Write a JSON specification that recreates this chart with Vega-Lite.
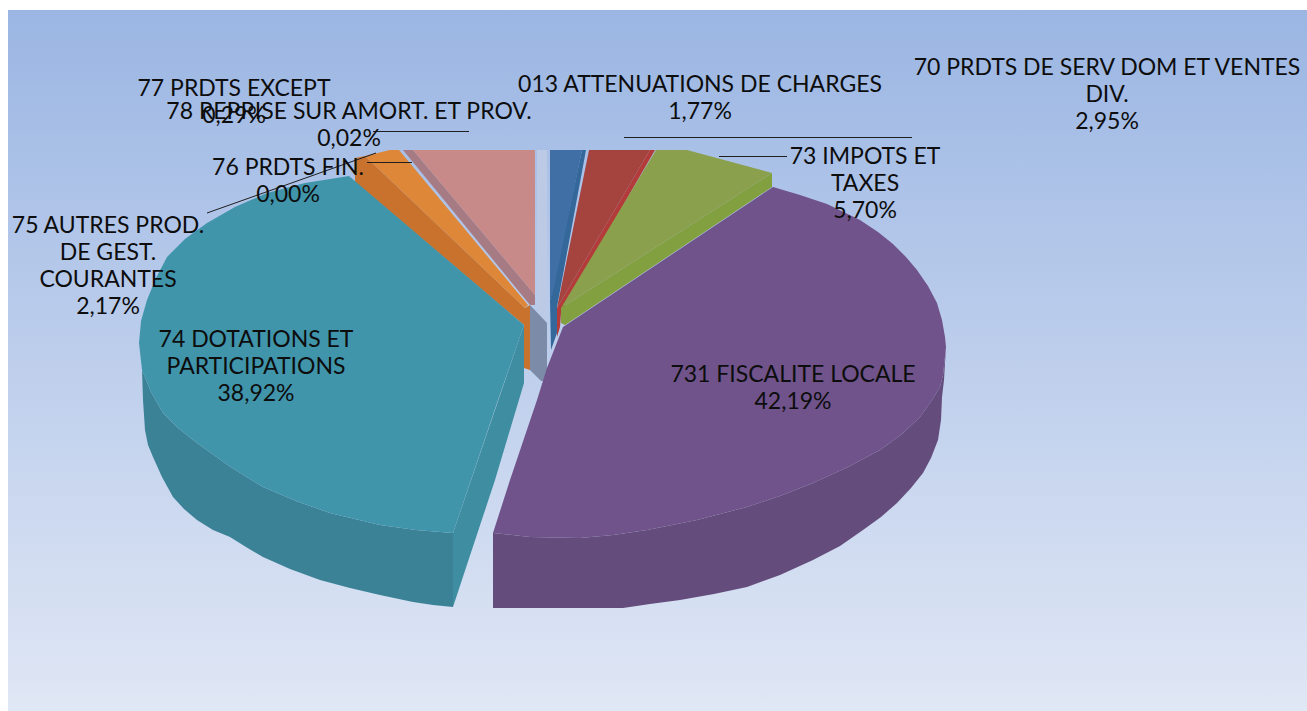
{
"$schema":"https://vega.github.io/schema/vega-lite/v6.json",
"width":1307,"height":711,"padding":0,
"autosize":{"type":"fit","contains":"padding"},
"background":"white",
"config":{"view":{"stroke":null}},
"datasets":{
"panel":[{"x":0.8,"x2":130.7,"y":1.0,"y2":71.1}],
"leaders":[
{"x":37.3,"y":13.15,"x2":46.9,"y2":13.15},
{"x":62.4,"y":13.75,"x2":91.2,"y2":13.75},
{"x":71.9,"y":15.65,"x2":78.7,"y2":15.65},
{"x":36.7,"y":16.25,"x2":41.2,"y2":16.25},
{"x":20.7,"y":21.3,"x2":37.6,"y2":15.3}
],
"labels":[
{"t":"70 PRDTS DE SERV DOM ET VENTES\nDIV.\n2,95%","pct":2.95,"x":110.7,"y":6.8},
{"t":"013 ATTENUATIONS DE CHARGES\n1,77%","pct":1.77,"x":70.0,"y":8.5},
{"t":"73 IMPOTS ET\nTAXES\n5,70%","pct":5.70,"x":86.5,"y":15.7},
{"t":"731 FISCALITE LOCALE\n42,19%","pct":42.19,"x":79.3,"y":37.5},
{"t":"74 DOTATIONS ET\nPARTICIPATIONS\n38,92%","pct":38.92,"x":25.6,"y":34.0},
{"t":"75 AUTRES PROD.\nDE  GEST.\nCOURANTES\n2,17%","pct":2.17,"x":10.8,"y":22.6},
{"t":"76 PRDTS FIN.\n0,00%","pct":0.00,"x":28.8,"y":16.8},
{"t":"77 PRDTS EXCEPT\n0,29%","pct":0.29,"x":23.4,"y":8.9},
{"t":"78 REPRISE SUR AMORT. ET PROV.\n0,02%","pct":0.02,"x":34.9,"y":11.2}
],
"shapes":[
{"p":"pinkWall","i":1,"x":40.3,"y":15},{"p":"pinkWall","i":2,"x":41.3,"y":15},{"p":"pinkWall","i":3,"x":53.5,"y":29.5},{"p":"pinkWall","i":4,"x":53.5,"y":30.5},{"p":"pinkWall","i":5,"x":53.0,"y":30.5},
{"p":"pinkFace","i":1,"x":41.3,"y":15},{"p":"pinkFace","i":2,"x":53.5,"y":15},{"p":"pinkFace","i":3,"x":53.5,"y":29.5},
{"p":"stripe","i":1,"x":53.7,"y":15},{"p":"stripe","i":2,"x":54.7,"y":15},{"p":"stripe","i":3,"x":54.7,"y":32.3},{"p":"stripe","i":4,"x":53.7,"y":31},
{"p":"greyWall","i":1,"x":53.0,"y":30.5},{"p":"greyWall","i":2,"x":54.7,"y":32.3},{"p":"greyWall","i":3,"x":54.7,"y":38.1},{"p":"greyWall","i":4,"x":54.1,"y":38.1},{"p":"greyWall","i":5,"x":53.0,"y":37.0},
{"p":"orangeWall","i":1,"x":35.5,"y":15.8},{"p":"orangeWall","i":2,"x":36.5,"y":15.6},{"p":"orangeWall","i":3,"x":52.5,"y":30.8},{"p":"orangeWall","i":4,"x":53.0,"y":30.5},{"p":"orangeWall","i":5,"x":53.0,"y":37.0},{"p":"orangeWall","i":6,"x":52.4,"y":36.8},{"p":"orangeWall","i":7,"x":52.4,"y":32.5},{"p":"orangeWall","i":8,"x":35.5,"y":18.2},
{"p":"orangeFace","i":1,"x":36.5,"y":15.6},{"p":"orangeFace","i":2,"x":39.0,"y":15},{"p":"orangeFace","i":3,"x":39.9,"y":15},{"p":"orangeFace","i":4,"x":52.8,"y":30.5},{"p":"orangeFace","i":5,"x":52.5,"y":30.8},
{"p":"tealWall","i":1,"x":45.3,"y":53.3},{"p":"tealWall","i":2,"x":41.6,"y":53.0},{"p":"tealWall","i":3,"x":38.0,"y":52.5},{"p":"tealWall","i":4,"x":35.5,"y":51.9},{"p":"tealWall","i":5,"x":33.0,"y":51.3},{"p":"tealWall","i":6,"x":29.6,"y":50.1},{"p":"tealWall","i":7,"x":26.3,"y":48.7},{"p":"tealWall","i":8,"x":22.9,"y":46.6},{"p":"tealWall","i":9,"x":19.7,"y":44.3},{"p":"tealWall","i":10,"x":17.8,"y":42.8},{"p":"tealWall","i":11,"x":16.3,"y":41.3},{"p":"tealWall","i":12,"x":15.1,"y":39.2},{"p":"tealWall","i":13,"x":14.2,"y":37.0},{"p":"tealWall","i":14,"x":14.3,"y":40.0},{"p":"tealWall","i":15,"x":14.5,"y":43.0},{"p":"tealWall","i":16,"x":14.8,"y":44.5},{"p":"tealWall","i":17,"x":15.3,"y":45.7},{"p":"tealWall","i":18,"x":16.2,"y":47.7},{"p":"tealWall","i":19,"x":17.3,"y":49.7},{"p":"tealWall","i":20,"x":18.4,"y":50.9},{"p":"tealWall","i":21,"x":19.7,"y":52.0},{"p":"tealWall","i":22,"x":21.3,"y":53.0},{"p":"tealWall","i":23,"x":23.0,"y":53.7},{"p":"tealWall","i":24,"x":24.6,"y":54.7},{"p":"tealWall","i":25,"x":26.3,"y":55.7},{"p":"tealWall","i":26,"x":29.0,"y":56.9},{"p":"tealWall","i":27,"x":32.0,"y":58.0},{"p":"tealWall","i":28,"x":35.0,"y":58.8},{"p":"tealWall","i":29,"x":38.0,"y":59.5},{"p":"tealWall","i":30,"x":41.3,"y":60.2},{"p":"tealWall","i":31,"x":43.3,"y":60.5},{"p":"tealWall","i":32,"x":45.3,"y":60.7},
{"p":"tealInner","i":1,"x":52.4,"y":32.5},{"p":"tealInner","i":2,"x":52.4,"y":38.3},{"p":"tealInner","i":3,"x":49.5,"y":48.0},{"p":"tealInner","i":4,"x":45.3,"y":60.7},{"p":"tealInner","i":5,"x":45.3,"y":53.3},
{"p":"tealFace","i":1,"x":52.4,"y":32.5},{"p":"tealFace","i":2,"x":49.8,"y":40.0},{"p":"tealFace","i":3,"x":45.3,"y":53.3},{"p":"tealFace","i":4,"x":41.6,"y":53.0},{"p":"tealFace","i":5,"x":38.0,"y":52.5},{"p":"tealFace","i":6,"x":35.5,"y":51.9},{"p":"tealFace","i":7,"x":33.0,"y":51.3},{"p":"tealFace","i":8,"x":29.6,"y":50.1},{"p":"tealFace","i":9,"x":26.3,"y":48.7},{"p":"tealFace","i":10,"x":22.9,"y":46.6},{"p":"tealFace","i":11,"x":19.7,"y":44.3},{"p":"tealFace","i":12,"x":17.8,"y":42.8},{"p":"tealFace","i":13,"x":16.3,"y":41.3},{"p":"tealFace","i":14,"x":15.1,"y":39.2},{"p":"tealFace","i":15,"x":14.2,"y":37.0},{"p":"tealFace","i":16,"x":13.9,"y":34.3},{"p":"tealFace","i":17,"x":14.1,"y":32.1},{"p":"tealFace","i":18,"x":14.7,"y":30.0},{"p":"tealFace","i":19,"x":15.6,"y":27.8},{"p":"tealFace","i":20,"x":16.7,"y":25.7},{"p":"tealFace","i":21,"x":18.5,"y":23.9},{"p":"tealFace","i":22,"x":20.7,"y":22.3},{"p":"tealFace","i":23,"x":23.5,"y":20.7},{"p":"tealFace","i":24,"x":26.7,"y":19.3},{"p":"tealFace","i":25,"x":30.5,"y":18.3},{"p":"tealFace","i":26,"x":34.9,"y":17.6},
{"p":"blueWall","i":1,"x":58.2,"y":15},{"p":"blueWall","i":2,"x":58.6,"y":15},{"p":"blueWall","i":3,"x":55.7,"y":30.7},{"p":"blueWall","i":4,"x":55.7,"y":33.3},{"p":"blueWall","i":5,"x":55.1,"y":35.0},{"p":"blueWall","i":6,"x":55.0,"y":30.0},
{"p":"blueFace","i":1,"x":55.0,"y":15},{"p":"blueFace","i":2,"x":58.2,"y":15},{"p":"blueFace","i":3,"x":55.3,"y":29.3},{"p":"blueFace","i":4,"x":55.0,"y":30.0},
{"p":"redWall","i":1,"x":65.0,"y":15},{"p":"redWall","i":2,"x":65.5,"y":15},{"p":"redWall","i":3,"x":56.1,"y":31.3},{"p":"redWall","i":4,"x":56.0,"y":32.7},{"p":"redWall","i":5,"x":55.7,"y":33.7},{"p":"redWall","i":6,"x":55.7,"y":30.8},
{"p":"redFace","i":1,"x":58.9,"y":15},{"p":"redFace","i":2,"x":65.0,"y":15},{"p":"redFace","i":3,"x":55.7,"y":30.8},
{"p":"greenWall","i":1,"x":77.2,"y":17.3},{"p":"greenWall","i":2,"x":77.2,"y":18.7},{"p":"greenWall","i":3,"x":56.5,"y":32.5},{"p":"greenWall","i":4,"x":56.1,"y":32.3},{"p":"greenWall","i":5,"x":56.1,"y":30.8},
{"p":"greenFace","i":1,"x":65.6,"y":15},{"p":"greenFace","i":2,"x":68.7,"y":15},{"p":"greenFace","i":3,"x":77.2,"y":17.3},{"p":"greenFace","i":4,"x":56.1,"y":30.8},
{"p":"purpleWall","i":1,"x":49.3,"y":53.3},{"p":"purpleWall","i":2,"x":53.0,"y":53.7},{"p":"purpleWall","i":3,"x":58.0,"y":53.8},{"p":"purpleWall","i":4,"x":61.3,"y":53.5},{"p":"purpleWall","i":5,"x":64.7,"y":53.0},{"p":"purpleWall","i":6,"x":69.7,"y":52.0},{"p":"purpleWall","i":7,"x":74.7,"y":50.7},{"p":"purpleWall","i":8,"x":78.0,"y":49.6},{"p":"purpleWall","i":9,"x":81.3,"y":48.3},{"p":"purpleWall","i":10,"x":84.8,"y":46.7},{"p":"purpleWall","i":11,"x":88.0,"y":45.0},{"p":"purpleWall","i":12,"x":90.2,"y":43.4},{"p":"purpleWall","i":13,"x":92.0,"y":41.7},{"p":"purpleWall","i":14,"x":93.2,"y":40.0},{"p":"purpleWall","i":15,"x":94.0,"y":38.7},{"p":"purpleWall","i":16,"x":94.3,"y":37.5},{"p":"purpleWall","i":17,"x":94.6,"y":34.7},{"p":"purpleWall","i":18,"x":94.5,"y":36.3},{"p":"purpleWall","i":19,"x":94.4,"y":38.0},{"p":"purpleWall","i":20,"x":94.2,"y":39.7},{"p":"purpleWall","i":21,"x":94.1,"y":42.0},{"p":"purpleWall","i":22,"x":93.8,"y":44.0},{"p":"purpleWall","i":23,"x":93.1,"y":45.8},{"p":"purpleWall","i":24,"x":92.3,"y":47.3},{"p":"purpleWall","i":25,"x":91.1,"y":48.8},{"p":"purpleWall","i":26,"x":89.7,"y":50.3},{"p":"purpleWall","i":27,"x":88.1,"y":51.7},{"p":"purpleWall","i":28,"x":86.3,"y":53.0},{"p":"purpleWall","i":29,"x":84.0,"y":54.6},{"p":"purpleWall","i":30,"x":81.3,"y":56.0},{"p":"purpleWall","i":31,"x":78.0,"y":57.5},{"p":"purpleWall","i":32,"x":74.7,"y":58.7},{"p":"purpleWall","i":33,"x":71.4,"y":59.4},{"p":"purpleWall","i":34,"x":68.0,"y":60.0},{"p":"purpleWall","i":35,"x":65.0,"y":60.4},{"p":"purpleWall","i":36,"x":62.3,"y":60.8},{"p":"purpleWall","i":37,"x":49.3,"y":60.8},
{"p":"purpleFace","i":1,"x":56.3,"y":32.7},{"p":"purpleFace","i":2,"x":77.3,"y":18.7},{"p":"purpleFace","i":3,"x":80.0,"y":19.5},{"p":"purpleFace","i":4,"x":82.7,"y":20.4},{"p":"purpleFace","i":5,"x":86.0,"y":22.0},{"p":"purpleFace","i":6,"x":87.8,"y":23.2},{"p":"purpleFace","i":7,"x":89.3,"y":24.4},{"p":"purpleFace","i":8,"x":90.6,"y":25.7},{"p":"purpleFace","i":9,"x":91.7,"y":27.0},{"p":"purpleFace","i":10,"x":92.8,"y":28.6},{"p":"purpleFace","i":11,"x":93.7,"y":30.3},{"p":"purpleFace","i":12,"x":94.2,"y":32.0},{"p":"purpleFace","i":13,"x":94.5,"y":33.7},{"p":"purpleFace","i":14,"x":94.6,"y":34.7},{"p":"purpleFace","i":15,"x":94.3,"y":37.5},{"p":"purpleFace","i":16,"x":94.0,"y":38.7},{"p":"purpleFace","i":17,"x":93.2,"y":40.0},{"p":"purpleFace","i":18,"x":92.0,"y":41.7},{"p":"purpleFace","i":19,"x":90.2,"y":43.4},{"p":"purpleFace","i":20,"x":88.0,"y":45.0},{"p":"purpleFace","i":21,"x":84.8,"y":46.7},{"p":"purpleFace","i":22,"x":81.3,"y":48.3},{"p":"purpleFace","i":23,"x":78.0,"y":49.6},{"p":"purpleFace","i":24,"x":74.7,"y":50.7},{"p":"purpleFace","i":25,"x":69.7,"y":52.0},{"p":"purpleFace","i":26,"x":64.7,"y":53.0},{"p":"purpleFace","i":27,"x":61.3,"y":53.5},{"p":"purpleFace","i":28,"x":58.0,"y":53.8},{"p":"purpleFace","i":29,"x":53.0,"y":53.7},{"p":"purpleFace","i":30,"x":49.3,"y":53.3},{"p":"purpleFace","i":31,"x":51.0,"y":48.0},{"p":"purpleFace","i":32,"x":53.7,"y":40.0},{"p":"purpleFace","i":33,"x":54.7,"y":36.8}
]
},
"layer":[
{"data":{"name":"panel"},"mark":{"type":"rect","fill":{"gradient":"linear","x1":0,"y1":0,"x2":0,"y2":1,"stops":[{"offset":0,"color":"#9bb6e3"},{"offset":1,"color":"#e0e7f5"}]}},
"encoding":{"x":{"field":"x","type":"quantitative","scale":{"domain":[0,130.7],"nice":false,"zero":false},"axis":null},"x2":{"field":"x2"},"y":{"field":"y","type":"quantitative","scale":{"domain":[0,71.1],"reverse":true,"nice":false,"zero":false},"axis":null},"y2":{"field":"y2"}}},
{"data":{"name":"shapes"},"mark":{"type":"line","strokeWidth":0,"interpolate":"linear"},
"encoding":{"x":{"field":"x","type":"quantitative","axis":null},"y":{"field":"y","type":"quantitative","axis":null},"order":{"field":"i","type":"quantitative"},
"detail":{"field":"p"},
"fill":{"field":"p","type":"nominal","legend":null,"sort":null,"scale":{
"domain":["pinkWall","pinkFace","stripe","greyWall","orangeWall","orangeFace","tealWall","tealInner","tealFace","blueWall","blueFace","redWall","redFace","greenWall","greenFace","purpleWall","purpleFace"],
"range":["#a67b84","#c88a88","#bccae6","#7b8ba8","#c8722d","#de8739","#3b8296","#3f8da0","#4095ab","#34679a","#3f6fa5","#b33c3a","#a5433f","#82a03f","#8ba04c","#644c7c","#6f538a"]}}}},
{"data":{"name":"leaders"},"mark":{"type":"rule","color":"#1f1f1f","strokeWidth":1},
"encoding":{"x":{"field":"x","type":"quantitative","axis":null},"x2":{"field":"x2"},"y":{"field":"y","type":"quantitative","axis":null},"y2":{"field":"y2"}}},
{"data":{"name":"labels"},"mark":{"type":"text","font":"Lato","fontSize":23,"lineHeight":27,"lineBreak":"\n","align":"center","baseline":"middle","color":"#0d0d0d"},
"encoding":{"x":{"field":"x","type":"quantitative","axis":null},"y":{"field":"y","type":"quantitative","axis":null},"text":{"field":"t","type":"nominal"}}}
],
"resolve":{"scale":{"x":"shared","y":"shared"}}
}
